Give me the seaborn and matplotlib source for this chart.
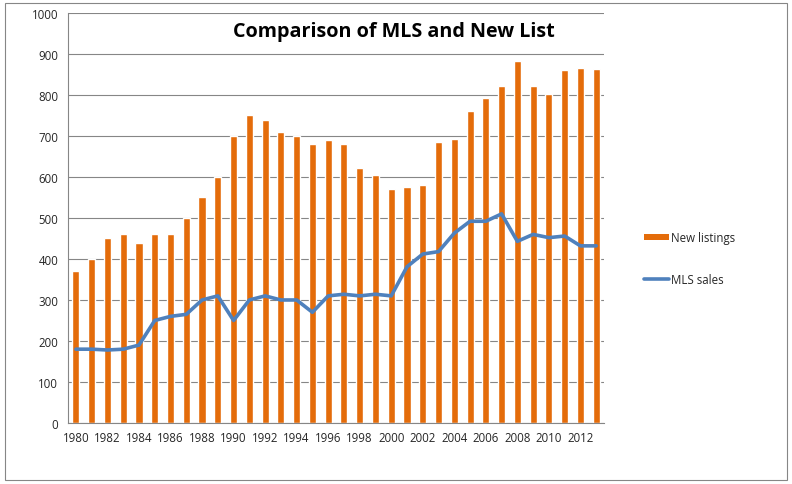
import numpy as np
import pandas as pd
import matplotlib
matplotlib.use("Agg")
from matplotlib import pyplot as plt
from matplotlib.patches import Patch, Rectangle
from matplotlib.lines import Line2D
import seaborn as sns

years = list(range(1980, 2014))
new_listings = [370, 400, 450, 460, 438, 460, 460, 500, 550, 600,
                700, 750, 740, 710, 700, 680, 690, 680, 622, 605,
                570, 575, 580, 685, 692, 762, 792, 822, 882, 822,
                802, 862, 867, 864]
mls_sales = [180, 180, 178, 180, 190, 250, 260, 265, 300, 310,
             250, 300, 310, 300, 300, 270, 310, 314, 310, 314,
             310, 381, 412, 418, 463, 492, 492, 510, 443, 460,
             452, 456, 432, 432]

ORANGE = "#E46C0A"
BLUE = "#4F81BD"
GRID = "#868686"

df = pd.DataFrame({"year": [str(y) for y in years],
                   "new": new_listings, "mls": mls_sales})

sns.set_style("white")
plt.rcParams["font.family"] = ["Open Sans", "DejaVu Sans"]

fig = plt.figure(figsize=(7.92, 4.85), dpi=100)
ax = fig.add_axes([0.0859, 0.1258, 0.6768, 0.8454])

sns.barplot(data=df, x="year", y="new", color=ORANGE, width=0.45,
            saturation=1, ax=ax, zorder=2)
sns.pointplot(data=df, x="year", y="mls", color=BLUE, marker="",
              linewidth=2.6, errorbar=None, ax=ax, zorder=3)

n = len(years)
ax.set_xlim(-0.5, n - 0.5)
ax.set_ylim(0, 1000)
ax.set_yticks(range(0, 1001, 100))
ax.set_xticks(range(0, n, 2))
ax.set_xticklabels([str(y) for y in years[::2]])
ax.set_xticks(np.arange(-0.5, n, 1), minor=True)
ax.tick_params(axis="x", which="major", length=0, labelsize=8.3, pad=6)
ax.tick_params(axis="x", which="minor", length=4, color=GRID, width=0.8)
ax.tick_params(axis="y", length=4, color=GRID, width=0.8, labelsize=8.3, pad=3)
ax.set_xlabel("")
ax.set_ylabel("")
ax.grid(axis="y", color=GRID, linewidth=0.8, zorder=0)
ax.set_axisbelow(True)
for side in ["top", "right"]:
    ax.spines[side].set_visible(False)
for side in ["left", "bottom"]:
    ax.spines[side].set_color(GRID)
    ax.spines[side].set_linewidth(0.8)

ax.text(0.607, 0.957, "Comparison of MLS and New List", transform=ax.transAxes,
        ha="center", va="center", fontsize=14.2, fontweight="bold", color="black")

handles = [Patch(facecolor=ORANGE, edgecolor="none", label="New listings"),
           Line2D([0], [0], color=BLUE, linewidth=2.6, label="MLS sales")]
fig.legend(handles=handles, loc="center left", bbox_to_anchor=(0.80, 0.465),
           frameon=False, fontsize=8.3, labelspacing=2.5, handlelength=2.2,
           handletextpad=0.15, handleheight=0.5)

fig.patches.append(Rectangle((0.006, 0.008), 0.988, 0.984, transform=fig.transFigure,
                             fill=False, edgecolor=GRID, linewidth=0.8))

fig.savefig("out.png", dpi=100)
